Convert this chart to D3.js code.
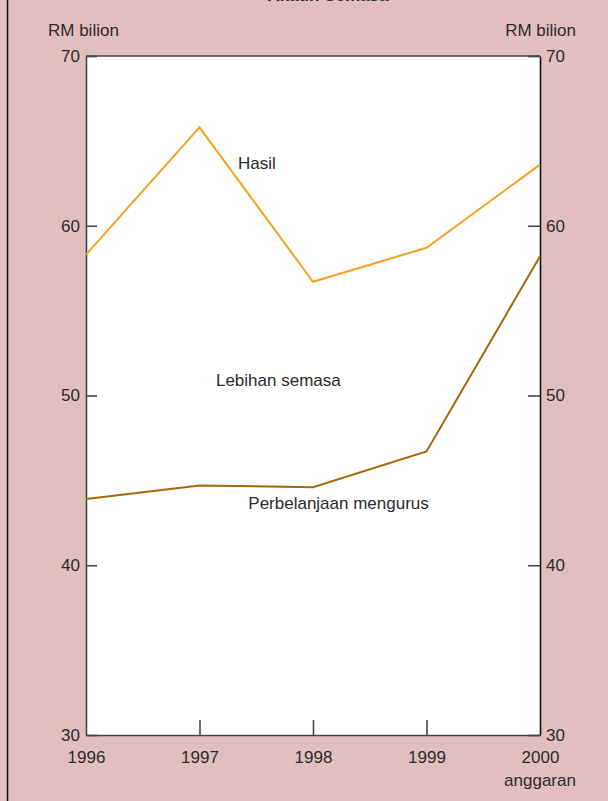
<!DOCTYPE html>
<html>
<head>
<meta charset="utf-8">
<script src="https://cdn.jsdelivr.net/npm/d3@7"></script>
<style>
  html, body { margin: 0; padding: 0; background: #e2bfbf; }
  svg { display: block; }
  text { font-family: "Liberation Sans", Arial, sans-serif; fill: #2b2b2b; }
</style>
</head>
<body>
<div id="chart"></div>
<script>
// Data (RM bilion)
const years = [1996, 1997, 1998, 1999, 2000];
const hasil = [58.3, 65.8, 56.7, 58.7, 63.6];
const perbelanjaan = [43.9, 44.7, 44.6, 46.7, 58.2];
const yTicks = [30, 40, 50, 60, 70];
const seriesLabels = [
    { text: "Hasil", year: 1997.34, value: 63.34 },
    { text: "Lebihan semasa", year: 1997.145, value: 50.56 },
    { text: "Perbelanjaan mengurus", year: 1997.43, value: 43.31 }
];

function drawChart() {
    const W = 608, H = 801;
    const margin = { top: 56, right: 68, bottom: 66, left: 86 };
    const width = W - margin.left - margin.right;
    const height = H - margin.top - margin.bottom;
    const fs = "17px";

    const svg = d3.select("#chart").append("svg")
        .attr("width", W)
        .attr("height", H);

    // outer frame line on the left
    svg.append("line")
        .attr("x1", 7.5).attr("x2", 7.5)
        .attr("y1", 0).attr("y2", H)
        .attr("stroke", "#111").attr("stroke-width", 1.5);

    // title, cut off by the top edge as in the source
    svg.append("text")
        .attr("x", 328).attr("y", 1)
        .attr("text-anchor", "middle")
        .style("font-size", "17px")
        .style("font-weight", "bold")
        .text("Akaun Semasa");

    const g = svg.append("g")
        .attr("transform", `translate(${margin.left},${margin.top})`);

    const x = d3.scaleLinear().domain([1996, 2000]).range([0, width]);
    const y = d3.scaleLinear().domain([30, 70]).range([height, 0]);

    // white plot background
    g.append("rect")
        .attr("width", width).attr("height", height)
        .attr("fill", "#fff");

    // axes with inward ticks
    const leftAxis = g.append("g")
        .call(d3.axisLeft(y).tickValues(yTicks).tickSizeInner(-11).tickSizeOuter(0).tickPadding(6));
    const rightAxis = g.append("g")
        .attr("transform", `translate(${width},0)`)
        .call(d3.axisRight(y).tickValues(yTicks).tickSizeInner(-12).tickSizeOuter(0).tickPadding(6));
    const bottomAxis = g.append("g")
        .attr("transform", `translate(0,${height})`)
        .call(d3.axisBottom(x).tickValues(years).tickFormat(d3.format("d")).tickSizeInner(-15).tickSizeOuter(0));

    [leftAxis, rightAxis, bottomAxis].forEach(a => {
        a.attr("font-family", null).attr("font-size", null);
        a.select(".domain").attr("stroke", "#444").attr("stroke-width", 1.6);
        a.selectAll(".tick line").attr("stroke", "#444").attr("stroke-width", 1.6);
        a.selectAll("text").style("font-size", fs).attr("fill", "#2b2b2b");
    });
    rightAxis.select(".domain").attr("stroke", "#111");
    // year labels under the zero line
    bottomAxis.selectAll(".tick text").attr("y", 28).attr("dy", null);
    bottomAxis.selectAll(".tick line").filter(d => d === 1996 || d === 2000).remove();

    // top frame line
    g.append("line")
        .attr("x1", 0).attr("x2", width)
        .attr("y1", 0).attr("y2", 0)
        .attr("stroke", "#444").attr("stroke-width", 1.6);

    // unit labels
    svg.append("text")
        .attr("x", 48).attr("y", 36)
        .style("font-size", fs)
        .text("RM bilion");
    svg.append("text")
        .attr("x", 576).attr("y", 36)
        .attr("text-anchor", "end")
        .style("font-size", fs)
        .text("RM bilion");
    svg.append("text")
        .attr("x", margin.left + x(2000)).attr("y", 786)
        .attr("text-anchor", "middle")
        .style("font-size", fs)
        .text("anggaran");

    const line = d3.line()
        .x(d => x(d[0]))
        .y(d => y(d[1]));

    g.append("path")
        .datum(d3.zip(years, hasil))
        .attr("fill", "none")
        .attr("stroke", "#f5a21f")
        .attr("stroke-width", 2)
        .attr("d", line);

    g.append("path")
        .datum(d3.zip(years, perbelanjaan))
        .attr("fill", "none")
        .attr("stroke", "#a86608")
        .attr("stroke-width", 2)
        .attr("d", line);

    g.selectAll(".series-label")
        .data(seriesLabels)
        .join("text")
        .attr("class", "series-label")
        .attr("x", d => x(d.year))
        .attr("y", d => y(d.value))
        .style("font-size", fs)
        .text(d => d.text);
}

drawChart();
</script>
</body>
</html>
